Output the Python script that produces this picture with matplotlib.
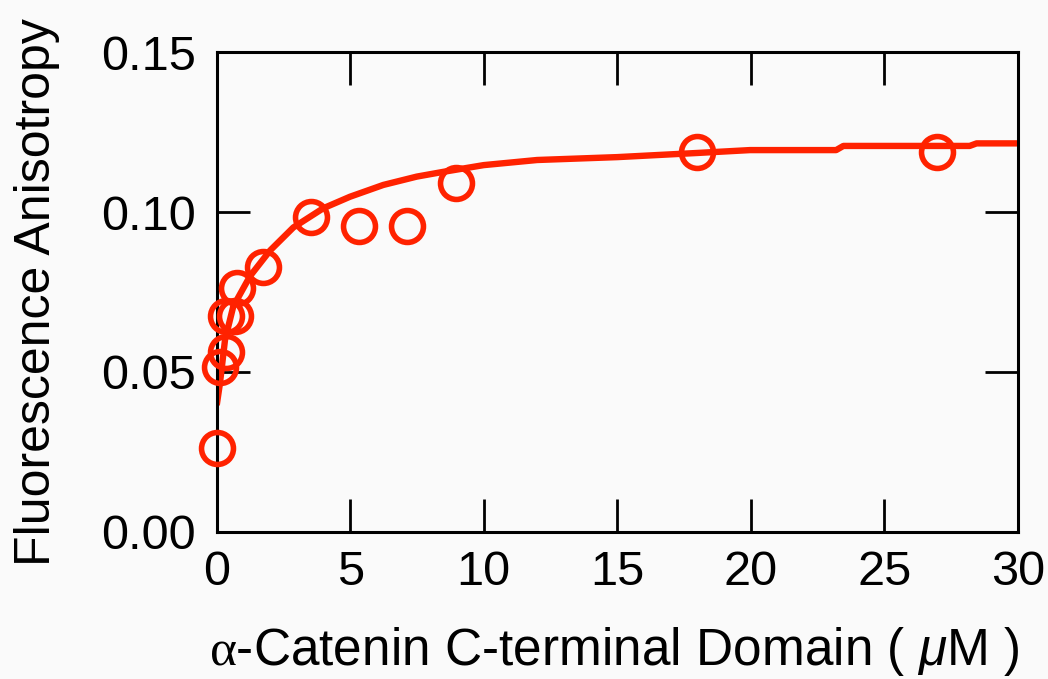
import numpy as np
import matplotlib
matplotlib.use('Agg')
import matplotlib.pyplot as plt

################################################################
# data

conc = [0.0, 0.12, 0.35, 0.35, 0.69, 0.77, 1.75, 3.53, 5.34, 7.12, 8.96, 17.99, 26.97]
aniso = [0.0262, 0.0514, 0.0563, 0.0676, 0.0676, 0.0762, 0.0827, 0.0984, 0.0957, 0.0957, 0.109, 0.1188, 0.1189]

# fitted curve
fit_x = [0.0, 0.12, 0.31, 0.62, 1.25, 2.0, 2.87, 3.99, 4.99, 6.24, 7.49, 8.49, 10.0, 12.0,
         15.0, 18.0, 19.97, 23.2, 23.47, 28.2, 28.46, 30.0]
fit_y = [0.0396, 0.0464, 0.060, 0.0705, 0.080, 0.088, 0.0952, 0.1012, 0.1048, 0.1085, 0.1111,
         0.1126, 0.1147, 0.1163, 0.1172, 0.1185, 0.1194, 0.1194, 0.1207, 0.1207, 0.1215, 0.1215]

xticks = [0, 5, 10, 15, 20, 25, 30]
yticks = [0.00, 0.05, 0.10, 0.15]

################################################################

red = '#ff2200'
bg = '#fafafa'

plt.rcParams['font.family'] = ['Liberation Sans', 'DejaVu Sans']
plt.rcParams['mathtext.fontset'] = 'custom'
plt.rcParams['mathtext.rm'] = 'Liberation Serif'
plt.rcParams['mathtext.it'] = 'Liberation Sans:italic'

fig = plt.figure(figsize=(10.48, 6.79), dpi=100, facecolor=bg)
ax = fig.add_axes([0.2068, 0.2169, 0.9711 - 0.2068, 0.923 - 0.2169])
ax.set_facecolor(bg)

ax.plot(fit_x, fit_y, '-', color=red, lw=4.6, solid_capstyle='butt', zorder=2)
ax.plot(conc, aniso, 'o', ms=23, mfc='none', mec=red, mew=4.0, zorder=3, clip_on=False)

ax.set_xlim(0, 30)
ax.set_ylim(0, 0.15)
ax.set_xticks(xticks)
ax.set_xticklabels([str(t) for t in xticks])
ax.set_yticks(yticks)
ax.set_yticklabels(['%.2f' % t for t in yticks])

ax.tick_params(direction='in', length=24, width=2.0, top=True, right=True,
               labelsize=35, colors='black', pad=13)
ax.tick_params(axis='y', pad=15)
for sp in ax.spines.values():
    sp.set_linewidth(2.2)
    sp.set_color('black')

fig.text(37 / 1048, 0.5 * (0.923 + 0.2169), 'Fluorescence Anisotropy', rotation=90,
         ha='center', va='center', fontsize=36)
fig.text(0.5864, 1 - 651 / 679, r'$\mathrm{\alpha}$-Catenin C-terminal Domain ( $\mu$M )',
         ha='center', va='center', fontsize=37)

fig.savefig('out.png', dpi=100, facecolor=bg)
